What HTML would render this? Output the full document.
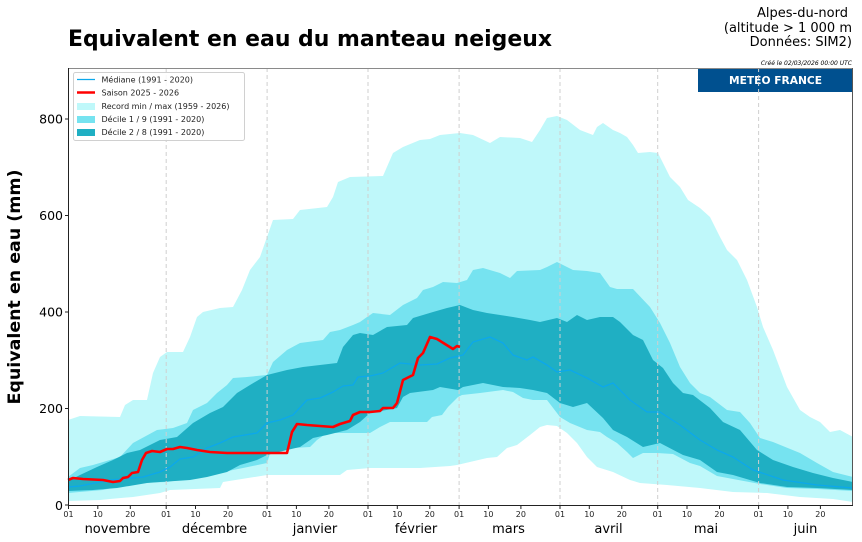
<!DOCTYPE html>
<html><head><meta charset="utf-8"><style>
html,body{margin:0;padding:0;background:#fff;}
svg{display:block;font-family:"DejaVu Sans","Liberation Sans",sans-serif;}
</style></head><body>
<svg width="862" height="542" viewBox="0 0 862 542" xmlns="http://www.w3.org/2000/svg">
<rect x="0" y="0" width="862" height="542" fill="#fff"/>
<!-- Title -->
<text x="68" y="46" font-size="22" font-weight="bold" fill="#000" textLength="484" lengthAdjust="spacingAndGlyphs">Equivalent en eau du manteau neigeux</text>
<text x="848" y="17" font-size="13" text-anchor="end" fill="#000">Alpes-du-nord</text>
<text x="852" y="32" font-size="13" text-anchor="end" fill="#000">(altitude &gt; 1 000 m</text>
<text x="852" y="46" font-size="13" text-anchor="end" fill="#000">Données: SIM2)</text>
<text x="852" y="65" font-size="6" font-style="italic" text-anchor="end" fill="#000">Créé le 02/03/2026 00:00 UTC</text>

<!-- Y label -->
<text transform="translate(20,287) rotate(-90)" font-size="17" font-weight="bold" text-anchor="middle" fill="#000" textLength="235" lengthAdjust="spacingAndGlyphs">Equivalent en eau (mm)</text>

<!-- Record band -->
<polygon fill="#bff8fa" points="68,420 80,416 120,417 125,405 133,400 147,400 153,373 160,357 167,352 183,352 190,337 197,317 203,312 220,308 233,307 242,290 250,270 260,257 267,237 273,220 293,219 300,210 327,207 333,197 338,182 350,177 383,176 393,153 403,147 420,140 430,139 440,135 460,133 473,135 490,143 500,137 520,138 532,142 540,130 547,118 557,116 567,120 580,130 593,135 597,127 603,123 613,130 620,133 627,137 633,145 638,153 650,152 658,153 670,177 680,187 688,200 700,208 710,217 720,237 727,250 737,260 747,280 757,307 763,327 773,350 787,387 800,410 810,417 820,422 830,432 840,430 853,437 853,502 833,499 800,497 767,493 733,492 700,488 667,485 640,483 630,480 613,472 597,467 587,457 577,443 567,433 557,426 547,425 540,427 530,435 517,445 507,448 497,457 487,458 457,465 450,466 420,468 370,468 347,470 340,475 267,475 223,482 220,488 170,490 160,493 133,497 110,499 100,500 68,501"/>
<!-- Decile 1/9 -->
<polygon fill="#76e3f0" points="68,477 80,468 93,465 120,457 133,443 157,430 173,428 187,423 193,410 207,403 217,393 227,385 233,378 247,377 267,375 273,362 287,350 300,343 323,340 330,332 340,330 353,325 360,322 367,317 373,313 390,315 403,305 417,298 423,290 433,287 443,282 457,283 467,280 473,270 483,268 500,273 510,278 517,271 540,270 547,267 557,262 573,270 587,271 600,273 610,287 617,289 633,289 650,307 660,323 670,343 680,367 690,383 700,393 710,397 727,410 740,412 750,423 760,438 773,442 800,453 817,463 833,472 853,477 853,491 817,489 787,488 760,484 733,479 717,476 700,466 690,463 673,454 657,453 643,453 633,458 627,452 617,443 607,437 600,432 587,430 570,423 560,417 547,400 533,400 523,398 513,392 503,390 480,393 462,395 458,397 448,407 442,415 432,417 427,422 390,422 380,427 370,433 340,433 327,433 317,440 310,447 293,448 285,436 275,438 267,463 243,468 223,472 207,475 167,482 133,483 103,490 68,493"/>
<!-- Decile 2/8 -->
<polygon fill="#1fafc3" points="68,481 80,475 97,467 113,460 127,453 140,450 160,440 177,437 193,423 210,413 223,407 237,393 250,385 267,375 287,370 303,367 337,363 343,347 353,335 360,333 373,335 387,327 407,325 413,318 433,312 447,308 460,305 473,310 487,313 513,317 530,320 540,322 557,318 567,322 577,315 587,320 600,317 613,317 620,322 633,335 643,340 653,360 663,368 673,383 683,393 693,395 710,408 723,422 740,430 757,450 773,460 793,467 813,473 833,478 853,482 853,490 817,488 787,487 760,483 733,475 717,472 700,460 683,455 660,443 643,447 627,437 613,430 603,418 587,403 573,407 560,403 547,393 533,390 520,388 503,387 483,383 463,387 458,390 440,387 433,390 410,393 403,397 397,408 370,413 360,422 347,430 327,435 313,438 300,447 287,450 267,455 257,460 240,465 227,472 207,477 190,480 160,482 147,483 117,488 93,490 68,491"/>

<!-- Grid -->
<g stroke="#cfcfcf" stroke-width="1" stroke-dasharray="4,3" fill="none">
<line x1="166.2" y1="68" x2="166.2" y2="505"/>
<line x1="267.1" y1="68" x2="267.1" y2="505"/>
<line x1="368" y1="68" x2="368" y2="505"/>
<line x1="459.1" y1="68" x2="459.1" y2="505"/>
<line x1="560" y1="68" x2="560" y2="505"/>
<line x1="657.7" y1="68" x2="657.7" y2="505"/>
</g>

<!-- Median -->
<polyline fill="none" stroke="#0ca8ec" stroke-width="1.3" stroke-linejoin="round" points="68,487 80,486 110,480 143,477 160,472 170,467 180,459 193,457 207,448 220,443 233,437 257,433 267,423 280,420 293,415 307,400 320,398 333,392 343,386 353,385 358,377 370,376 383,373 400,363 420,365 437,364 450,358 463,355 473,342 490,337 503,343 513,355 527,360 533,357 547,365 557,372 570,370 587,378 603,387 613,383 630,400 647,412 660,412 680,425 700,440 717,450 733,457 753,470 783,480 817,485 853,488"/>
<!-- Saison -->
<polyline fill="none" stroke="#ff0000" stroke-width="2.6" stroke-linejoin="round" points="68,480 73,478 83,479 103,480 113,482 120,481 123,478 128,477 132,473 138,472 142,460 146,453 152,451 160,452 167,449 173,449 180,447 187,448 197,450 210,452 227,453 287,453 292,432 297,424 307,425 333,427 340,424 350,421 353,415 360,412 370,412 380,411 383,408 393,408 397,403 403,380 407,378 413,375 418,358 423,353 430,337 437,339 453,349 457,346 460,347"/>

<!-- Meteo France box -->
<rect x="698" y="68" width="155" height="24" fill="#00508f"/>
<text x="775.5" y="84" font-size="10.5" font-weight="bold" fill="#fff" text-anchor="middle" textLength="93" lengthAdjust="spacingAndGlyphs">METEO FRANCE</text>
<g stroke="#cfcfcf" stroke-width="1" stroke-dasharray="4,3" fill="none">
<line x1="758.6" y1="68" x2="758.6" y2="505"/>
</g>

<!-- Spines -->
<line x1="68" y1="68.5" x2="853" y2="68.5" stroke="#8a8a8a" stroke-width="1"/>
<line x1="852.5" y1="68" x2="852.5" y2="505" stroke="#555" stroke-width="1"/>
<line x1="68.5" y1="68" x2="68.5" y2="505.5" stroke="#222" stroke-width="1"/>
<line x1="68" y1="505.5" x2="853" y2="505.5" stroke="#222" stroke-width="1"/>

<!-- Y ticks -->
<g stroke="#222" stroke-width="1">
<line x1="65" y1="505" x2="68" y2="505"/>
<line x1="65" y1="408.5" x2="68" y2="408.5"/>
<line x1="65" y1="312" x2="68" y2="312"/>
<line x1="65" y1="215.5" x2="68" y2="215.5"/>
<line x1="65" y1="119" x2="68" y2="119"/>
</g>
<g font-size="12.5" text-anchor="end" fill="#000">
<text x="63" y="510">0</text>
<text x="63" y="413">200</text>
<text x="63" y="316.5">400</text>
<text x="63" y="220">600</text>
<text x="63" y="123.5">800</text>
</g>

<!-- X ticks -->
<g stroke="#222" stroke-width="1">
<line x1="68.5" y1="505" x2="68.5" y2="509"/><line x1="97.8" y1="505" x2="97.8" y2="509"/><line x1="130.3" y1="505" x2="130.3" y2="509"/>
<line x1="166.2" y1="505" x2="166.2" y2="509"/><line x1="195.5" y1="505" x2="195.5" y2="509"/><line x1="228" y1="505" x2="228" y2="509"/>
<line x1="267.1" y1="505" x2="267.1" y2="509"/><line x1="296.4" y1="505" x2="296.4" y2="509"/><line x1="328.9" y1="505" x2="328.9" y2="509"/>
<line x1="368" y1="505" x2="368" y2="509"/><line x1="397.3" y1="505" x2="397.3" y2="509"/><line x1="429.8" y1="505" x2="429.8" y2="509"/>
<line x1="459.1" y1="505" x2="459.1" y2="509"/><line x1="488.4" y1="505" x2="488.4" y2="509"/><line x1="520.9" y1="505" x2="520.9" y2="509"/>
<line x1="560" y1="505" x2="560" y2="509"/><line x1="589.3" y1="505" x2="589.3" y2="509"/><line x1="621.8" y1="505" x2="621.8" y2="509"/>
<line x1="657.7" y1="505" x2="657.7" y2="509"/><line x1="687" y1="505" x2="687" y2="509"/><line x1="719.5" y1="505" x2="719.5" y2="509"/>
<line x1="758.6" y1="505" x2="758.6" y2="509"/><line x1="787.9" y1="505" x2="787.9" y2="509"/><line x1="820.4" y1="505" x2="820.4" y2="509"/>
</g>
<g font-size="8" text-anchor="middle" fill="#222">
<text x="68.5" y="517">01</text><text x="97.8" y="517">10</text><text x="130.3" y="517">20</text>
<text x="166.2" y="517">01</text><text x="195.5" y="517">10</text><text x="228" y="517">20</text>
<text x="267.1" y="517">01</text><text x="296.4" y="517">10</text><text x="328.9" y="517">20</text>
<text x="368" y="517">01</text><text x="397.3" y="517">10</text><text x="429.8" y="517">20</text>
<text x="459.1" y="517">01</text><text x="488.4" y="517">10</text><text x="520.9" y="517">20</text>
<text x="560" y="517">01</text><text x="589.3" y="517">10</text><text x="621.8" y="517">20</text>
<text x="657.7" y="517">01</text><text x="687" y="517">10</text><text x="719.5" y="517">20</text>
<text x="758.6" y="517">01</text><text x="787.9" y="517">10</text><text x="820.4" y="517">20</text>
</g>
<g font-size="13" text-anchor="middle" fill="#000">
<text x="117.5" y="533">novembre</text>
<text x="214.5" y="533">décembre</text>
<text x="315" y="533">janvier</text>
<text x="416" y="533">février</text>
<text x="508.5" y="533">mars</text>
<text x="608.5" y="533">avril</text>
<text x="706" y="533">mai</text>
<text x="805.5" y="533">juin</text>
</g>

<!-- Legend -->
<rect x="73.5" y="72.5" width="171" height="68" rx="2" ry="2" fill="#fff" fill-opacity="0.85" stroke="#d0d0d0" stroke-width="1"/>
<line x1="77" y1="79.5" x2="95" y2="79.5" stroke="#0ca8ec" stroke-width="1.3"/>
<line x1="77" y1="92.5" x2="95" y2="92.5" stroke="#ff0000" stroke-width="2.6"/>
<rect x="77" y="103" width="18" height="7" fill="#bff8fa"/>
<rect x="77" y="116" width="18" height="7" fill="#76e3f0"/>
<rect x="77" y="129" width="18" height="7" fill="#1fafc3"/>
<g font-size="8" fill="#222">
<text x="101.5" y="82.5">Médiane (1991 - 2020)</text>
<text x="101.5" y="95.5">Saison 2025 - 2026</text>
<text x="101.5" y="109">Record min / max (1959 - 2026)</text>
<text x="101.5" y="122">Décile 1 / 9 (1991 - 2020)</text>
<text x="101.5" y="135">Décile 2 / 8 (1991 - 2020)</text>
</g>
</svg>
</body></html>
